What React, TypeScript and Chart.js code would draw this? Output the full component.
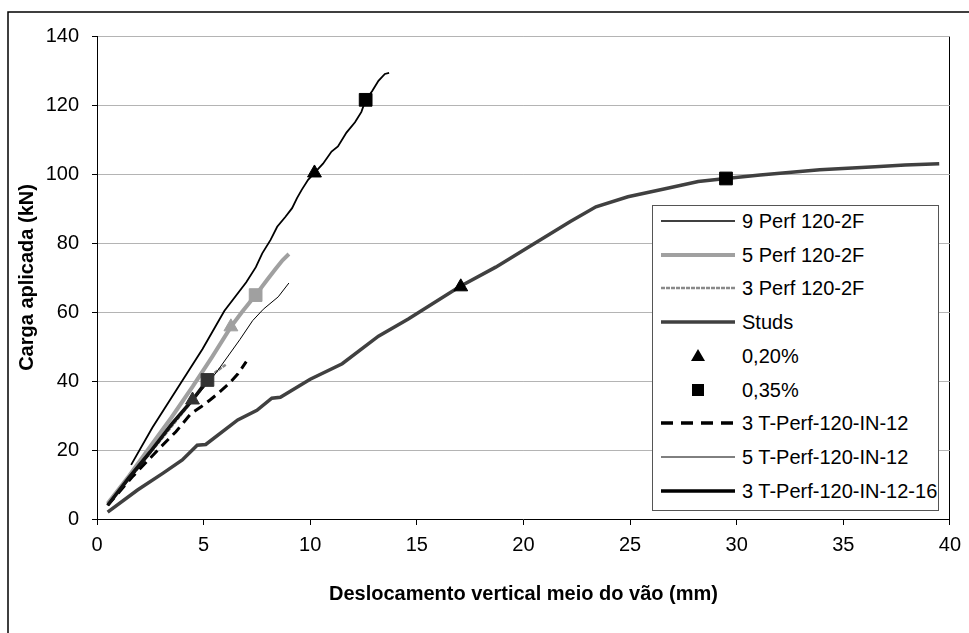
import React, { useEffect, useRef } from "react";
import { Chart, registerables } from "chart.js";
Chart.register(...registerables);

const FONT = "'Liberation Sans', Arial, Helvetica, sans-serif";

const xTickValues = [0, 5, 10, 15, 20, 25, 30, 35, 40];
const yTickValues = [0, 20, 40, 60, 80, 100, 120, 140];

const nineX = [1.6, 2.6, 3.7, 4.95, 5.97, 7.0, 7.45, 7.75, 8.14, 8.45, 8.84, 9.15, 9.38, 9.6, 9.9, 10.2, 10.6, 11.0, 11.3, 11.7, 12.1, 12.4, 12.6, 12.9, 13.2, 13.5, 13.7];
const nineY = [15.7, 26.5, 37.2, 49.3, 60.3, 68.6, 73, 77, 80.9, 84.7, 87.6, 90.1, 93, 95.4, 98.3, 100.3, 103, 106.5, 108, 112, 115, 118, 121.5, 124, 127, 129, 129.3];

const fiveX = [0.5, 1.5, 2.5, 3.5, 4.5, 5.4, 6.28, 6.8, 7.44, 8.0, 8.4, 8.7, 9.0];
const fiveY = [4.5, 12.5, 21, 29.5, 38.5, 47, 55.7, 60, 64.9, 69.5, 72.7, 75, 76.8];

const threeX = [0.5, 1.5, 3.0, 4.5, 5.5, 6.05];
const threeY = [4, 11.5, 23, 34.5, 42.3, 44.8];

const studsX = [0.5, 1.9, 3.1, 4.0, 4.7, 5.1, 6.6, 7.5, 8.2, 8.6, 10, 11.5, 13.2, 14.6, 17.0, 18.7, 20.4, 22.2, 23.4, 24.9, 26.7, 28.2, 29.5, 31.1, 33.9, 36.5, 37.9, 39.5];
const studsY = [2, 8.4, 13.3, 17.1, 21.4, 21.6, 28.7, 31.5, 35, 35.3, 40.5, 45, 53, 58, 67.3, 73, 79.4, 86.2, 90.5, 93.4, 95.8, 97.8, 98.7, 99.7, 101.2, 102.1, 102.6, 103];

const p020X = [10.2, 6.28, 17.06, 4.48];
const p020Y = [100.3, 55.7, 67.3, 34.5];
const p035X = [12.6, 7.44, 29.5, 5.18];
const p035Y = [121.5, 64.9, 98.7, 40.3];

const t12X = [0.5, 1.7, 2.9, 3.7, 4.4, 4.9, 5.3, 5.6, 6.2, 6.6, 7.0];
const t12Y = [4, 12.5, 20.3, 25.3, 30.5, 32.6, 34.5, 36, 39.3, 42, 45.6];

const t5X = [0.5, 2, 3.5, 5, 5.6, 6.7, 7.3, 7.8, 8.5, 9.0];
const t5Y = [4, 15, 27, 38, 42.5, 52, 57.5, 60.8, 64.4, 68.4];

const t16X = [0.5, 1.5, 2.5, 3.5, 4.48, 5.18, 5.4];
const t16Y = [4, 12, 19.5, 27.5, 34.5, 40.3, 42];

const seriesNames = [
  "9 Perf  120-2F",
  "5 Perf  120-2F",
  "3 Perf  120-2F",
  "Studs",
  "0,20%",
  "0,35%",
  "3 T-Perf-120-IN-12",
  "5 T-Perf-120-IN-12",
  "3 T-Perf-120-IN-12-16",
];

const xAxisTitle = "Deslocamento vertical meio do vão (mm)";
const yAxisTitle = "Carga aplicada (kN)";

const pts = (xs: number[], ys: number[]) => xs.map((x, i) => ({ x, y: ys[i] }));

const markerColors = ["#000000", "#a0a0a0", "#000000", "#333333"];

const framePlugin = {
  id: "frame",
  beforeDraw(chart: any) {
    const ctx = chart.ctx;
    ctx.save();
    ctx.fillStyle = "#ffffff";
    ctx.fillRect(0, 0, chart.width, chart.height);
    ctx.restore();
  },
  afterDraw(chart: any) {
    const ctx = chart.ctx;
    ctx.save();
    ctx.strokeStyle = "#000";
    ctx.lineWidth = 1.5;
    ctx.beginPath();
    ctx.moveTo(8, chart.height);
    ctx.lineTo(8, 12);
    ctx.lineTo(chart.width, 12);
    ctx.stroke();
    ctx.restore();
  },
};

type LegendStyle = {
  kind: "line" | "tri" | "sq";
  color?: string;
  width?: number;
  dash?: string;
};

const legendStyles: LegendStyle[] = [
  { kind: "line", color: "#000", width: 1.5 },
  { kind: "line", color: "#a0a0a0", width: 4 },
  { kind: "line", color: "#8a8a8a", width: 2.5, dash: "4 1" },
  { kind: "line", color: "#404040", width: 3.5 },
  { kind: "tri" },
  { kind: "sq" },
  { kind: "line", color: "#000", width: 3.5, dash: "12 8" },
  { kind: "line", color: "#000", width: 1 },
  { kind: "line", color: "#000", width: 3.5 },
];

function Legend() {
  return (
    <div
      style={{
        position: "absolute",
        left: 652,
        top: 205,
        width: 287,
        height: 306,
        border: "1.5px solid #555",
        background: "#fff",
        boxSizing: "border-box",
        fontFamily: FONT,
        fontSize: 20,
        color: "#000",
      }}
    >
      {seriesNames.map((name, i) => {
        const st = legendStyles[i];
        const cy = 15 + 33.7 * i;
        return (
          <div key={name} style={{ position: "absolute", left: 0, top: cy - 12, height: 24, width: 285 }}>
            <svg width={76} height={24} style={{ position: "absolute", left: 8, top: 0 }}>
              {st.kind === "line" && (
                <line x1={0} y1={12} x2={74} y2={12} stroke={st.color} strokeWidth={st.width} strokeDasharray={st.dash} />
              )}
              {st.kind === "tri" && <polygon points="37,5 44,17 30,17" fill="#000" />}
              {st.kind === "sq" && <rect x={31} y={6} width={12} height={12} fill="#000" />}
            </svg>
            <span style={{ position: "absolute", left: 89, top: 0, lineHeight: "24px", whiteSpace: "nowrap" }}>{name}</span>
          </div>
        );
      })}
    </div>
  );
}

export default function App() {
  const ref = useRef<HTMLCanvasElement | null>(null);

  useEffect(() => {
    if (!ref.current) return;
    const lineBase = { showLine: true, pointRadius: 0, pointHoverRadius: 0, tension: 0, fill: false };
    const chart = new Chart(ref.current, {
      type: "scatter",
      data: {
        datasets: [
          { ...lineBase, label: seriesNames[0], data: pts(nineX, nineY), borderColor: "#000", borderWidth: 1.8, order: 5 },
          { ...lineBase, label: seriesNames[1], data: pts(fiveX, fiveY), borderColor: "#a0a0a0", borderWidth: 4, order: 6 },
          { ...lineBase, label: seriesNames[2], data: pts(threeX, threeY), borderColor: "#8a8a8a", borderWidth: 2.5, borderDash: [4, 1], order: 9 },
          { ...lineBase, label: seriesNames[3], data: pts(studsX, studsY), borderColor: "#404040", borderWidth: 3.5, order: 4 },
          {
            label: seriesNames[4],
            data: pts(p020X, p020Y),
            showLine: false,
            pointStyle: "triangle",
            pointRadius: 8,
            pointBackgroundColor: markerColors,
            pointBorderColor: markerColors,
            pointBorderWidth: 1,
            order: 0,
          },
          {
            label: seriesNames[5],
            data: pts(p035X, p035Y),
            showLine: false,
            pointStyle: "rect",
            pointRadius: 9,
            pointBackgroundColor: markerColors,
            pointBorderColor: markerColors,
            pointBorderWidth: 1,
            order: 0,
          },
          { ...lineBase, label: seriesNames[6], data: pts(t12X, t12Y), borderColor: "#000", borderWidth: 3, borderDash: [10, 6], order: 7 },
          { ...lineBase, label: seriesNames[7], data: pts(t5X, t5Y), borderColor: "#000", borderWidth: 1, order: 8 },
          { ...lineBase, label: seriesNames[8], data: pts(t16X, t16Y), borderColor: "#111", borderWidth: 3.5, order: 3 },
        ] as any,
      },
      options: {
        responsive: false,
        animation: false,
        events: [],
        layout: { padding: { left: 0, top: 36, right: 14, bottom: 0 } },
        plugins: { legend: { display: false }, tooltip: { enabled: false } },
        scales: {
          x: {
            type: "linear",
            min: 0,
            max: 40,
            afterBuildTicks: (s: any) => {
              s.ticks = xTickValues.map((v) => ({ value: v }));
            },
            afterFit: (s: any) => {
              s.height = 114;
            },
            grid: {
              drawOnChartArea: true,
              color: (c: any) => (c.tick && c.tick.value === 40 ? "#000" : "rgba(0,0,0,0)"),
              tickColor: "#000",
              tickLength: 6,
              lineWidth: 1,
            },
            border: { color: "#000", width: 1 },
            ticks: { color: "#000", font: { family: FONT, size: 20 }, padding: 8, maxRotation: 0 },
            title: {
              display: true,
              text: xAxisTitle,
              color: "#000",
              font: { family: FONT, size: 20, weight: "bold" },
              padding: { top: 0, bottom: 27 },
            },
          },
          y: {
            type: "linear",
            min: 0,
            max: 140,
            afterBuildTicks: (s: any) => {
              s.ticks = yTickValues.map((v) => ({ value: v }));
            },
            afterFit: (s: any) => {
              s.width = 97;
            },
            grid: {
              color: (c: any) => (c.tick && c.tick.value === 0 ? "rgba(0,0,0,0)" : "#b4b4b4"),
              tickColor: "#000",
              tickLength: 5,
              lineWidth: 1,
            },
            border: { color: "#000", width: 1 },
            ticks: { color: "#000", font: { family: FONT, size: 20 }, padding: 13 },
            title: {
              display: true,
              text: yAxisTitle,
              color: "#000",
              font: { family: FONT, size: 20, weight: "bold" },
              padding: { top: 15, bottom: 0 },
            },
          },
        },
      } as any,
      plugins: [framePlugin],
    });
    return () => chart.destroy();
  }, []);

  return (
    <div style={{ position: "fixed", left: 0, top: 0, width: 969, height: 633, background: "#fff", overflow: "hidden" }}>
      <canvas ref={ref} width={969} height={633} style={{ position: "absolute", left: 0, top: 0, width: 969, height: 633 }} />
      <Legend />
    </div>
  );
}
